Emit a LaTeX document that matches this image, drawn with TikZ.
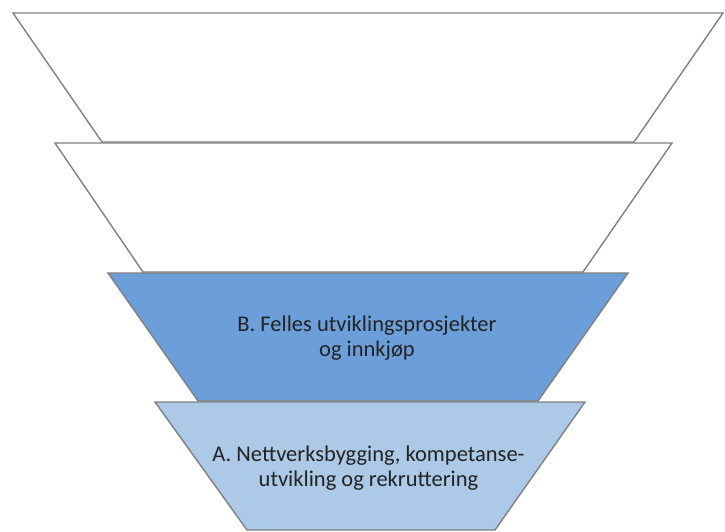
\documentclass[tikz,border=0pt]{standalone}
\usepackage{fontspec}
\setmainfont{Carlito}
\definecolor{edgegray}{RGB}{128,128,128}
\definecolor{darkblue}{RGB}{108,158,218}
\definecolor{lightblue}{RGB}{172,201,232}
\definecolor{txt}{RGB}{35,35,35}
\tikzset{
  trap/.style={draw=edgegray, line width=1.4pt, line join=miter},
  lbl/.style={align=center, font=\fontsize{22.5}{24.5}\selectfont, text=txt, inner sep=0pt}
}
\begin{document}
\begin{tikzpicture}[x=1pt,y=-1pt]
\useasboundingbox (0,0) rectangle (725,532);
\fill[white] (0,0) rectangle (725,532);
% level 1
\draw[trap, fill=white] (13,13) -- (723,13) -- (634,142) -- (102,142) -- cycle;
% level 2
\draw[trap, fill=white] (55,143) -- (672,143) -- (583,272) -- (143,272) -- cycle;
% level 3
\draw[trap, fill=darkblue] (108,273) -- (628,273) -- (538,401) -- (198,401) -- cycle;
% level 4
\draw[trap, fill=lightblue] (155,402) -- (585,402) -- (495,530) -- (247,530) -- cycle;
\node[lbl] (b) at (367,338) {B. Felles utviklingsprosjekter\\og innkjøp};
\node[lbl] (a) at (368.5,468) {A. Nettverksbygging, kompetanse-\\utvikling og rekruttering};
\end{tikzpicture}
\end{document}
